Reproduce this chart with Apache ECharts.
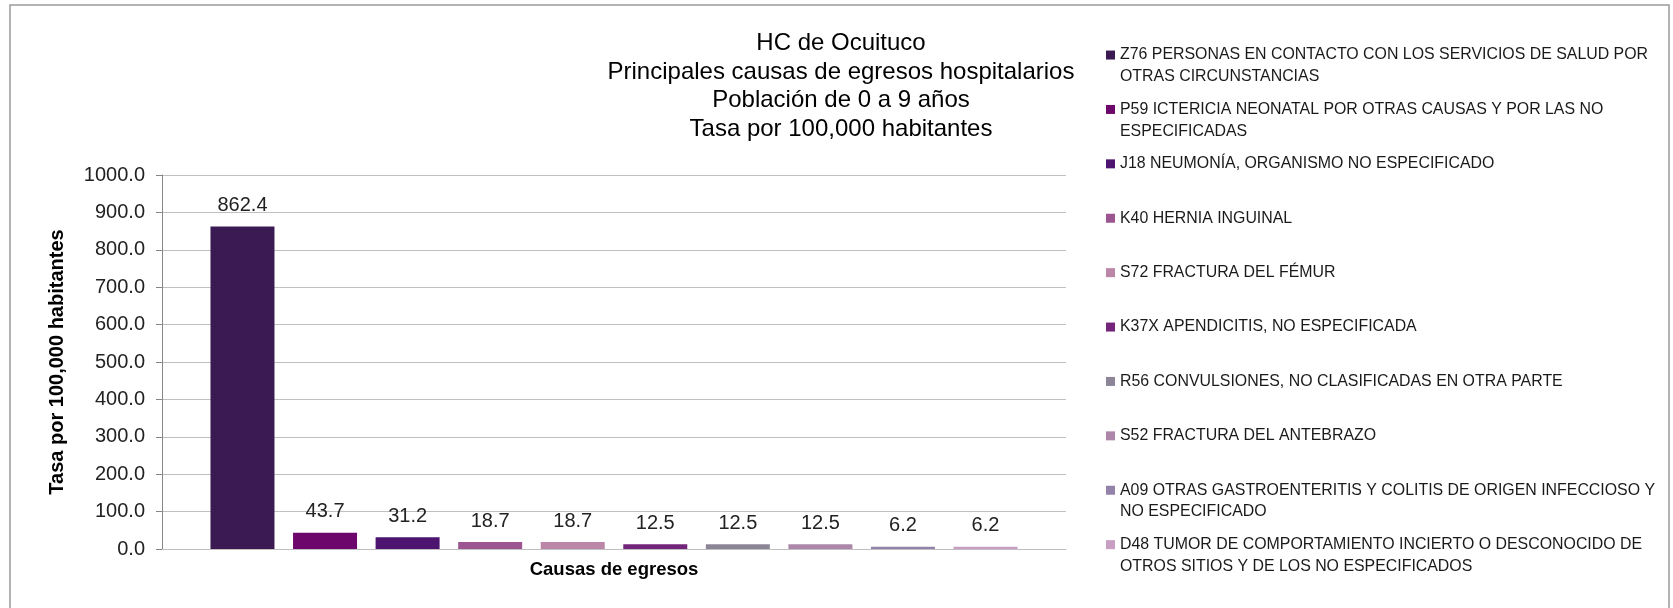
<!DOCTYPE html>
<html>
<head>
<meta charset="utf-8">
<title>HC de Ocuituco</title>
<script src="https://cdn.jsdelivr.net/npm/echarts@6.0.0/dist/echarts.min.js"></script>
<style>
    html, body { margin: 0; padding: 0; background: #fff; }
    #main { width: 1673px; height: 608px; }
</style>
</head>
<body>
<div id="main"></div>
<script>
var causas = [
    'Z76 PERSONAS EN CONTACTO CON LOS SERVICIOS DE SALUD POR OTRAS CIRCUNSTANCIAS',
    'P59 ICTERICIA NEONATAL POR OTRAS CAUSAS Y POR LAS NO ESPECIFICADAS',
    'J18 NEUMONÍA, ORGANISMO NO ESPECIFICADO',
    'K40 HERNIA INGUINAL',
    'S72 FRACTURA DEL FÉMUR',
    'K37X APENDICITIS, NO ESPECIFICADA',
    'R56 CONVULSIONES, NO CLASIFICADAS EN OTRA PARTE',
    'S52 FRACTURA DEL ANTEBRAZO',
    'A09 OTRAS GASTROENTERITIS Y COLITIS DE ORIGEN INFECCIOSO Y NO ESPECIFICADO',
    'D48 TUMOR DE COMPORTAMIENTO INCIERTO O DESCONOCIDO DE OTROS SITIOS Y DE LOS NO ESPECIFICADOS'
];
var tasas = [862.4, 43.7, 31.2, 18.7, 18.7, 12.5, 12.5, 12.5, 6.2, 6.2];
var colores = ['#3b1a54', '#6d076b', '#4d1570', '#9c5590', '#bc86a9',
               '#74247b', '#8c8598', '#ad86aa', '#9383ab', '#c89ec2'];
var categorias = [''];
var yMin = 0, yMax = 1000, yPaso = 100;

var fuente = '"Liberation Sans", Arial, sans-serif';
var myChart = echarts.init(document.getElementById('main'));

var series = causas.map(function (nombre, i) {
    return {
        name: nombre,
        type: 'bar',
        data: [tasas[i]],
        barWidth: 64,
        barGap: '29%',
        itemStyle: { color: colores[i] },
        label: {
            show: true,
            position: 'top',
            distance: 11,
            fontFamily: fuente,
            fontSize: 20,
            color: '#222',
            formatter: function (p) { return p.value.toFixed(1); }
        }
    };
});

// alto de linea de la leyenda; el marcador queda a la altura de la primera linea
var lh = 21.7;

var option = {
    animation: false,
    backgroundColor: '#fff',
    title: {
        text: 'HC de Ocuituco\nPrincipales causas de egresos hospitalarios\nPoblación de 0 a 9 años\nTasa por 100,000 habitantes',
        left: 841,
        top: 29,
        padding: 0,
        textAlign: 'center',
        textStyle: {
            fontFamily: fuente,
            fontSize: 24,
            fontWeight: 'normal',
            lineHeight: 28.6,
            color: '#000'
        }
    },
    legend: {
        orient: 'vertical',
        left: 1106,
        top: 22.5,
        padding: 0,
        itemGap: 54.4 - 3 * lh,
        itemWidth: 9,
        itemHeight: 9,
        icon: 'rect',
        data: causas,
        textStyle: {
            fontFamily: fuente,
            fontSize: 15.9,
            color: '#1a1a1a',
            width: 545,
            overflow: 'break',
            lineHeight: lh,
            height: 2 * lh,
            padding: [lh, 0, 0, 0],
            backgroundColor: 'rgba(255,255,255,0)',
            rich: { n: {} }
        }
    },
    grid: {
        left: 162,
        right: 607,
        top: 175,
        bottom: 59,
        outerBoundsMode: 'none'
    },
    xAxis: {
        type: 'category',
        data: categorias,
        name: 'Causas de egresos',
        nameLocation: 'middle',
        nameGap: 11,
        nameTextStyle: {
            fontFamily: fuente,
            fontSize: 18.5,
            fontWeight: 'bold',
            color: '#000',
            verticalAlign: 'top'
        },
        axisLine: { show: true, lineStyle: { color: '#bfbfbf', width: 1 } },
        axisTick: { show: false },
        axisLabel: { show: false },
        splitLine: { show: false }
    },
    yAxis: {
        type: 'value',
        min: yMin,
        max: yMax,
        interval: yPaso,
        name: 'Tasa por 100,000 habitantes',
        nameLocation: 'middle',
        nameGap: 95,
        nameTextStyle: {
            fontFamily: fuente,
            fontSize: 20,
            fontWeight: 'bold',
            color: '#000'
        },
        axisLine: { show: true, lineStyle: { color: '#868686', width: 1 } },
        axisTick: { show: true, length: 6, lineStyle: { color: '#868686' } },
        axisLabel: {
            margin: 17,
            fontFamily: fuente,
            fontSize: 20,
            color: '#222',
            formatter: function (v) { return v.toFixed(1); }
        },
        splitLine: { show: true, lineStyle: { color: '#c0c0c0', width: 1 } }
    },
    graphic: [{
        type: 'rect',
        shape: { x: 10, y: 5, width: 1659, height: 640 },
        style: { fill: 'none', stroke: '#9a9a9a', lineWidth: 1.5 },
        silent: true
    }],
    series: series
};

option && myChart.setOption(option);
</script>
</body>
</html>
